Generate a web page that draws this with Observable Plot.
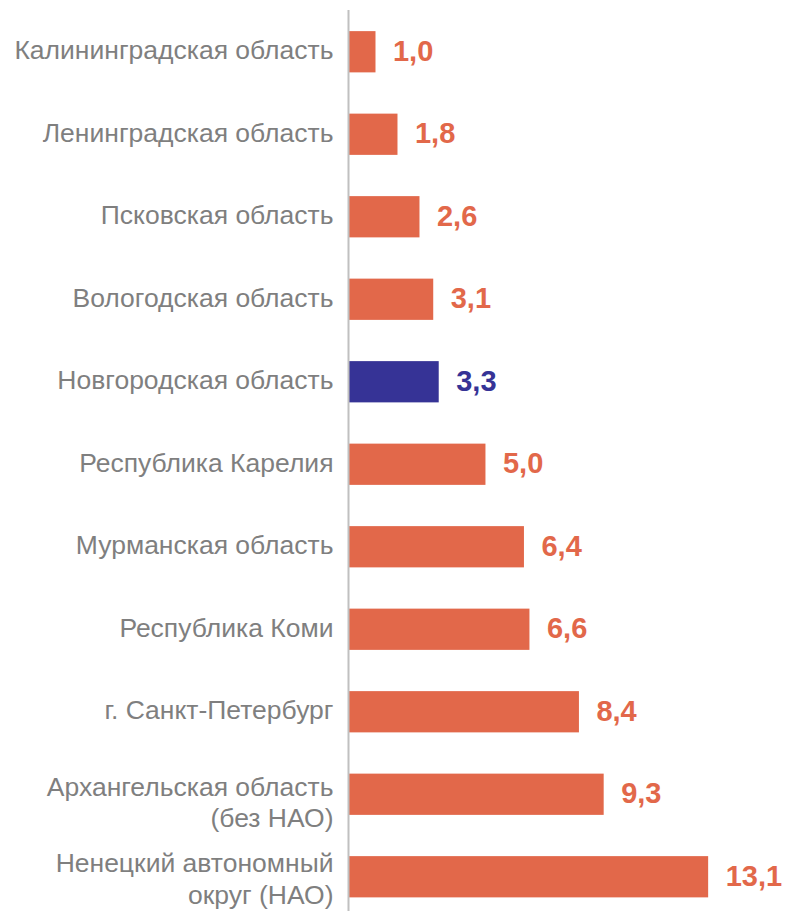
<!DOCTYPE html>
<html>
<head>
<meta charset="utf-8">
<script src="https://cdn.jsdelivr.net/npm/d3@7"></script>
<script src="https://cdn.jsdelivr.net/npm/@observablehq/plot@0.6"></script>
<style>
  html, body { margin: 0; padding: 0; background: #fff; }
  #chart svg { display: block; }
</style>
</head>
<body>
<div id="chart"></div>
<script>
const regions = [
  "Калининградская область",
  "Ленинградская область",
  "Псковская область",
  "Вологодская область",
  "Новгородская область",
  "Республика Карелия",
  "Мурманская область",
  "Республика Коми",
  "г. Санкт-Петербург",
  "Архангельская область\n(без НАО)",
  "Ненецкий автономный\nокруг (НАО)"
];
const values = [1.0, 1.8, 2.6, 3.1, 3.3, 5.0, 6.4, 6.6, 8.4, 9.3, 13.1];
const highlight = "Новгородская область";

const data = regions.map((r, i) => ({region: r, value: values[i], hl: r === highlight, idx: i}));
const orange = "#E2684A";
const blue = "#363396";
const fmt = v => v.toFixed(1).replace(".", ",");
const n = regions.length;

const labelStyle = {x: 0, y: "region", text: "region", textAnchor: "end", dx: -15,
  fontSize: 26.5, lineHeight: 1.2, fill: "#7f7f7f"};

const chart = Plot.plot({
  width: 792,
  height: 911,
  marginLeft: 348,
  marginRight: 0,
  marginTop: 10,
  marginBottom: 0,
  style: {fontFamily: "'Liberation Sans', Arial, sans-serif", background: "#fff"},
  x: {domain: [0, 16.15], axis: null},
  y: {domain: regions, range: [10.5, 918], padding: 0.5, paddingOuter: 0.25, round: false, axis: null},
  marks: [
    Plot.barX(data, {x: "value", y: "region", fill: d => d.hl ? blue : orange}),
    Plot.ruleX([0], {stroke: "#c0c0c0", strokeWidth: 2}),
    Plot.text(data.filter(d => !d.region.includes("\n")), {...labelStyle, dy: -3}),
    Plot.text(data.filter(d => d.region.includes("\n") && d.idx < n - 1), {...labelStyle, dy: 6.5}),
    Plot.text(data.filter(d => d.idx === n - 1), {...labelStyle, dy: 0.5}),
    Plot.text(data, {
      x: "value", y: "region", text: d => fmt(d.value), textAnchor: "start", dx: 17, dy: -1,
      fontSize: 29, fontWeight: "bold", fill: d => d.hl ? blue : orange
    })
  ]
});
document.getElementById("chart").appendChild(chart);
</script>
</body>
</html>
